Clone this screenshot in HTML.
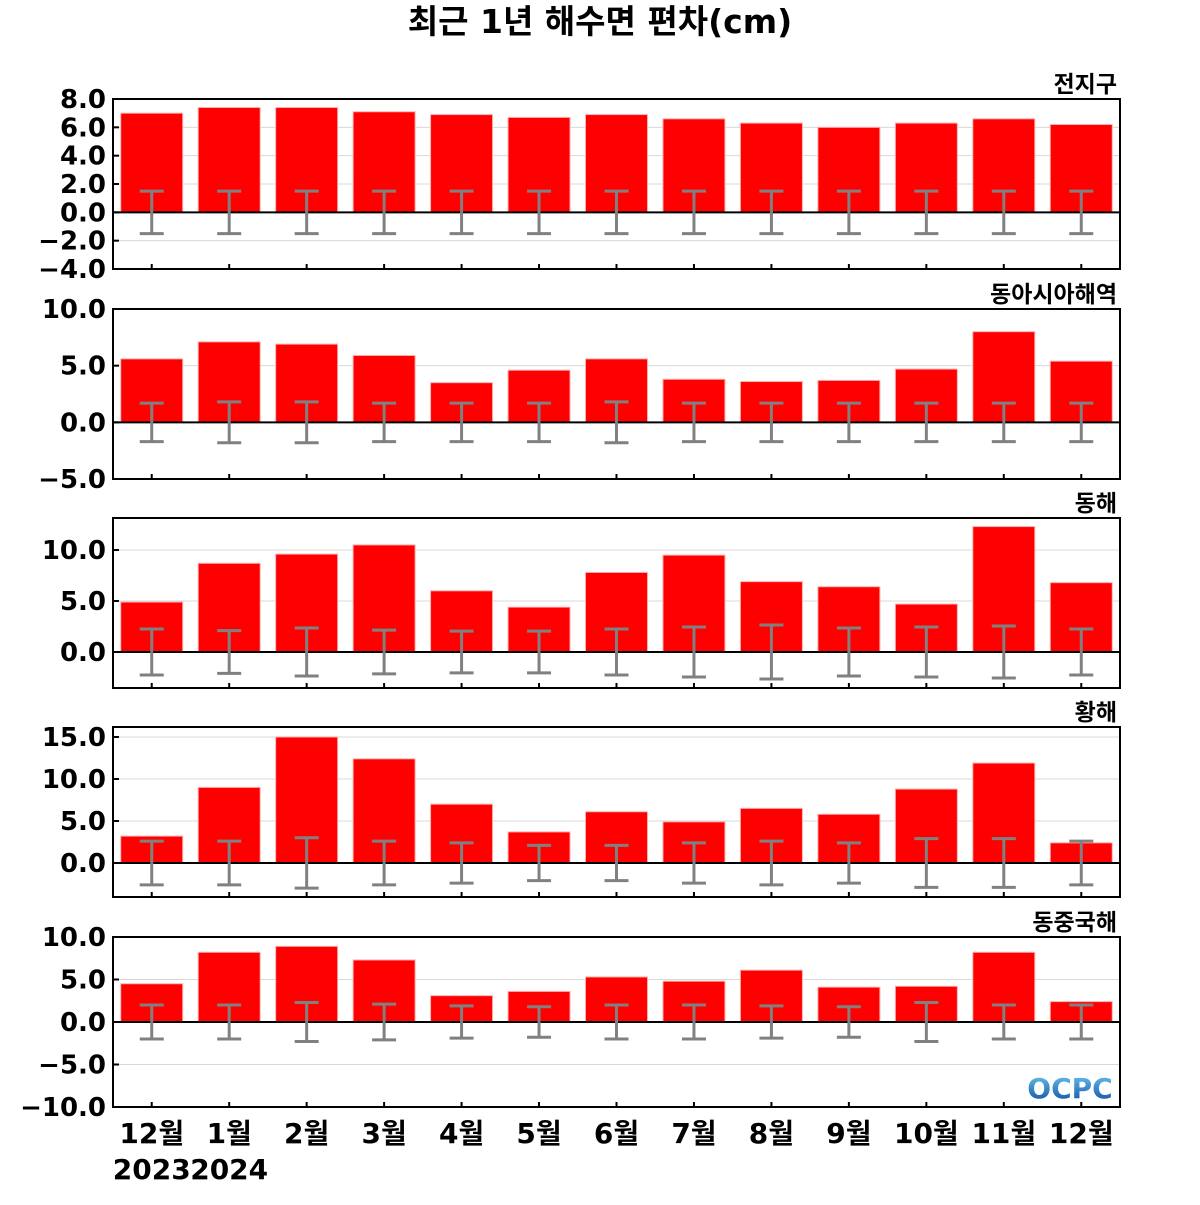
<!DOCTYPE html>
<html><head><meta charset="utf-8"><style>
body{margin:0;background:#fff}
svg text{font-family:"DejaVu Sans","Noto Sans CJK KR",sans-serif;font-weight:bold;fill:#000}
</style></head><body>
<svg id="c" width="1200" height="1200" xmlns="http://www.w3.org/2000/svg">
<text x="600" y="33" font-size="33" text-anchor="middle">최근 1년 해수면 편차(cm)</text>
</svg>
<script>
const months = ["12월","1월","2월","3월","4월","5월","6월","7월","8월","9월","10월","11월","12월"];
const panelNames = ["전지구","동아시아해역","동해","황해","동중국해"];
const globalVals = [7.0,7.4,7.4,7.1,6.9,6.7,6.9,6.6,6.3,6.0,6.3,6.6,6.2];
const globalErr = [1.5,1.5,1.5,1.5,1.5,1.5,1.5,1.5,1.5,1.5,1.5,1.5,1.5];
const eastAsiaVals = [5.6,7.1,6.9,5.9,3.5,4.6,5.6,3.8,3.6,3.7,4.7,8.0,5.4];
const eastAsiaErr = [1.7,1.8,1.8,1.7,1.7,1.7,1.8,1.7,1.7,1.7,1.7,1.7,1.7];
const eastSeaVals = [4.9,8.7,9.6,10.5,6.0,4.4,7.8,9.5,6.9,6.4,4.7,12.3,6.8];
const eastSeaErr = [2.25,2.1,2.35,2.15,2.05,2.05,2.25,2.45,2.65,2.35,2.45,2.55,2.25];
const yellowVals = [3.2,9.0,15.0,12.4,7.0,3.7,6.1,4.9,6.5,5.8,8.8,11.9,2.4];
const yellowErr = [2.6,2.6,3.0,2.6,2.4,2.1,2.1,2.4,2.6,2.4,2.9,2.9,2.6];
const ecsVals = [4.5,8.2,8.9,7.3,3.1,3.6,5.3,4.8,6.1,4.1,4.2,8.2,2.4];
const ecsErr = [2.0,2.0,2.3,2.1,1.9,1.8,2.0,2.0,1.9,1.8,2.3,2.0,2.0];
const panelVals = [globalVals,eastAsiaVals,eastSeaVals,yellowVals,ecsVals];
const panelErrs = [globalErr,eastAsiaErr,eastSeaErr,yellowErr,ecsErr];
const yMins = [-4,-5,-3.53,-4.05,-10];
const yMaxs = [8,10,13.14,16.19,10];
const tickSets = [[-4,-2,0,2,4,6,8],[-5,0,5,10],[0,5,10],[0,5,10,15],[-10,-5,0,5,10]];
const svg=document.getElementById('c');
const NS="http://www.w3.org/2000/svg";
function mk(t,a,parent){const e=document.createElementNS(NS,t);for(const k in a)e.setAttribute(k,a[k]);(parent||svg).appendChild(e);return e;}
const L=113,R=1120,H=170,tops=[99,309,518,727,937];
const step=(R-L)/months.length;
const xc=i=>L+step*(i+0.5);
const fmt=v=>(v<0?"−":"")+Math.abs(v).toFixed(1);
panelNames.forEach((nm,p)=>{
  const T=tops[p],B=T+H,lo=yMins[p],hi=yMaxs[p];
  const y=v=>B-(v-lo)/(hi-lo)*H;
  const g=mk('g',{});
  
  
  tickSets[p].forEach(t=>{
    const gl=mk('line',{x1:L,x2:R,y1:y(t),y2:y(t),stroke:'#d8d8d8','stroke-width':1},g);
    
    
    mk('line',{x1:L,x2:L+6,y1:y(t),y2:y(t),stroke:'#000','stroke-width':2},g);
    const tx=mk('text',{x:L-7,y:y(t)+9,'font-size':26,'text-anchor':'end'},g);
    tx.textContent=fmt(t);
    
    
  });
  panelVals[p].forEach((v,i)=>{
    const r=mk('rect',{x:xc(i)-31,y:Math.min(y(v),y(0)),width:62,height:Math.abs(y(v)-y(0)),fill:'#ff0000',stroke:'#ffb0b0','stroke-width':1},g);
    
    
  });
  mk('line',{x1:L,x2:R,y1:y(0),y2:y(0),stroke:'#000','stroke-width':2},g);
  panelErrs[p].forEach((e,i)=>{
    const x=xc(i);
    const eb=mk('g',{stroke:'#808080','stroke-width':3},g);
    
    
    mk('line',{x1:x,x2:x,y1:y(e),y2:y(-e)},eb);
    mk('line',{x1:x-12,x2:x+12,y1:y(e),y2:y(e)},eb);
    mk('line',{x1:x-12,x2:x+12,y1:y(-e),y2:y(-e)},eb);
    mk('line',{x1:x,x2:x,y1:B,y2:B-5,stroke:'#000','stroke-width':2},g);
  });
  const fr=mk('rect',{x:L,y:T,width:R-L,height:H,fill:'none',stroke:'#000','stroke-width':2},g);
  
  
  const pt=mk('text',{x:R-3,y:T-7,'font-size':23,'text-anchor':'end'},g);
  pt.textContent=nm;
  
  
});
months.forEach((m,i)=>{
  const t=mk('text',{x:xc(i),y:1143,'font-size':28,'text-anchor':'middle'});
  t.textContent=m;
  
  
});
[["2023",0],["2024",1]].forEach(([yr,i])=>{
  const t=mk('text',{x:xc(i),y:1179,'font-size':28,'text-anchor':'middle'});
  t.textContent=yr;
  
  
});
const defs=mk('defs',{});
const lg=mk('linearGradient',{id:'og',x1:0,y1:0,x2:0,y2:1},defs);
mk('stop',{offset:0,'stop-color':'#6ec8f0'},lg);mk('stop',{offset:1,'stop-color':'#0a4aa0'},lg);
const logo=mk('text',{x:1070,y:1098,'font-size':28,'text-anchor':'middle',style:'fill:url(#og);font-weight:bold'});
logo.textContent="OCPC";


</script>
</body></html>
